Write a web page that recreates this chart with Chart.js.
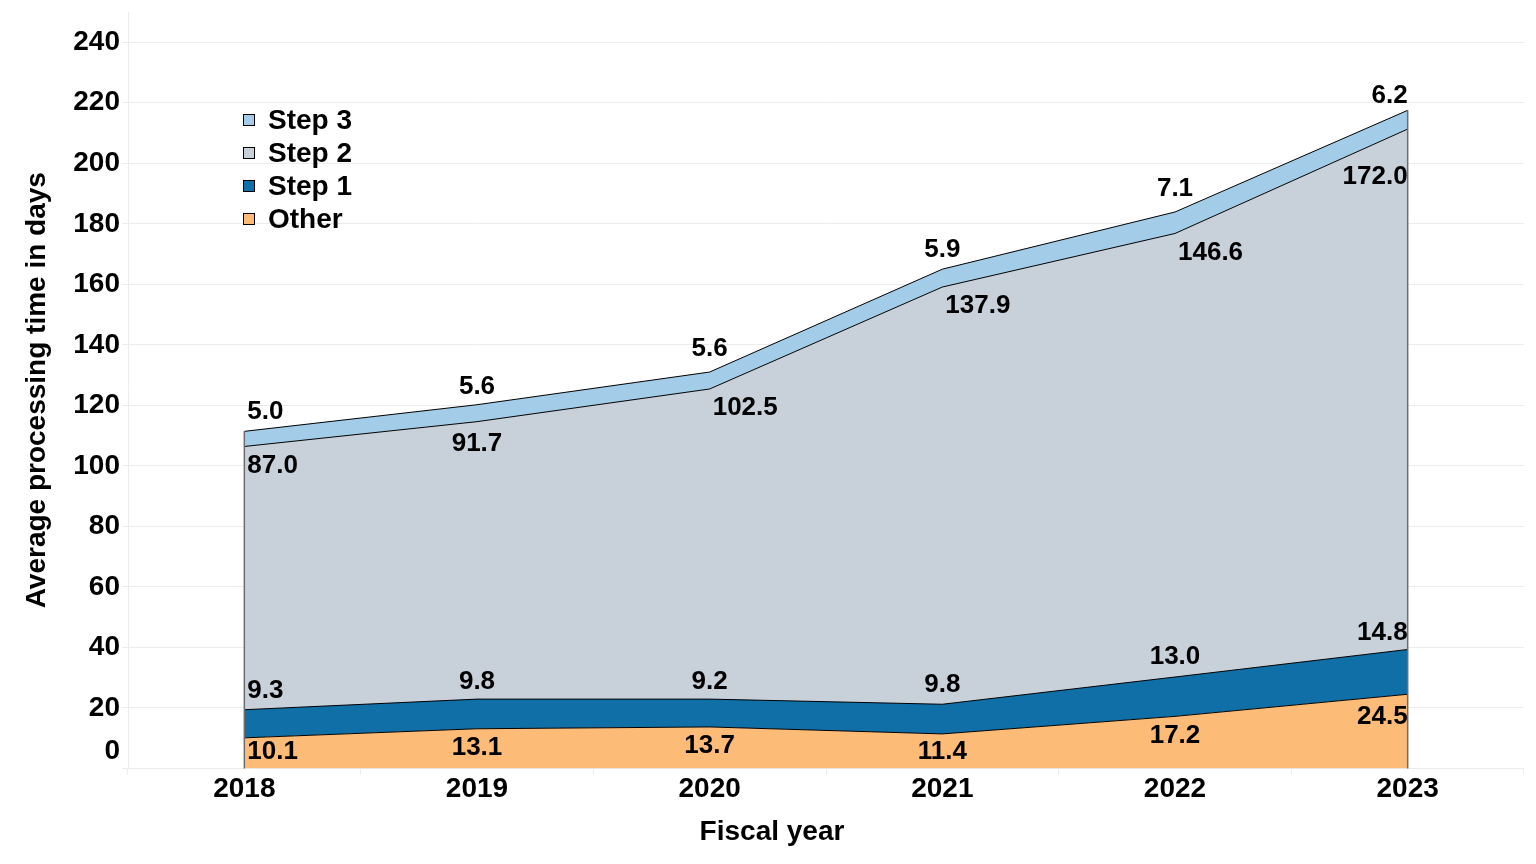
<!DOCTYPE html>
<html>
<head>
<meta charset="utf-8">
<script src="https://cdn.jsdelivr.net/npm/chart.js@4.4.1/dist/chart.umd.min.js"></script>
<style>
  html, body { margin: 0; padding: 0; background: #fff; }
  #wrap { width: 1536px; height: 864px; }
</style>
</head>
<body>
<div id="wrap"><canvas id="chart"></canvas></div>
<script>
const years = ['2018', '2019', '2020', '2021', '2022', '2023'];
const other = [10.1, 13.1, 13.7, 11.4, 17.2, 24.5];
const step1 = [9.3, 9.8, 9.2, 9.8, 13.0, 14.8];
const step2 = [87.0, 91.7, 102.5, 137.9, 146.6, 172.0];
const step3 = [5.0, 5.6, 5.6, 5.9, 7.1, 6.2];
const yTicks = [0, 20, 40, 60, 80, 100, 120, 140, 160, 180, 200, 220, 240];

const FONT = '"Liberation Sans", Arial, sans-serif';
const GRID = '#ececec';

// where each series puts its value labels: side of its top line + gap
const labelRules = [
  { side: 'below', gap: 18 },  // Other
  { side: 'above', gap: 17 },  // Step 1
  { side: 'below', gap: 19 },  // Step 2
  { side: 'above', gap: 15 }   // Step 3
];

function lineYAt(pts, i, x) {
  // y of the stacked top line at pixel x, near point i
  const p = pts[i];
  const q = x < p.x ? pts[i - 1] : pts[i + 1];
  if (!q || x === p.x) return p.y;
  return p.y + (q.y - p.y) * (x - p.x) / (q.x - p.x);
}

// grey side edges of the stacked area
const areaEdges = {
  id: 'areaEdges',
  afterDatasetsDraw(chart) {
    const last = chart.data.datasets.length - 1;
    const pts = chart.getDatasetMeta(last).data;
    const bottom = chart.scales.y.getPixelForValue(0);
    const ctx = chart.ctx;
    ctx.save();
    ctx.strokeStyle = '#6e6e6e';
    ctx.lineWidth = 1.5;
    [pts[0], pts[pts.length - 1]].forEach(p => {
      ctx.beginPath();
      ctx.moveTo(p.x, p.y);
      ctx.lineTo(p.x, bottom);
      ctx.stroke();
    });
    ctx.restore();
  }
};

const areaLabels = {
  id: 'areaLabels',
  afterDatasetsDraw(chart) {
    const ctx = chart.ctx;
    const area = chart.chartArea;
    ctx.save();
    ctx.font = 'bold 26px ' + FONT;
    ctx.fillStyle = '#000';
    ctx.textBaseline = 'middle';
    chart.data.datasets.forEach((ds, di) => {
      const pts = chart.getDatasetMeta(di).data;
      const rule = labelRules[di];
      pts.forEach((p, i) => {
        const text = ds.data[i].toFixed(1);
        const w = ctx.measureText(text).width;
        let x = p.x, align = 'center', x0, x1;
        const steepRise = i < pts.length - 1 && p.y - pts[i + 1].y > 40;
        if (i === 0 || (rule.side === 'below' && steepRise)) {
          x = p.x + 3; align = 'left'; x0 = p.x; x1 = x + w;
        } else if (i === pts.length - 1) {
          align = 'right'; x0 = x - w; x1 = p.x;
        } else {
          x0 = x - w / 2; x1 = x + w / 2;
        }
        const ya = lineYAt(pts, i, x0), yb = lineYAt(pts, i, x1);
        let y;
        if (rule.side === 'above') {
          y = Math.min(p.y, ya, yb) - rule.gap;
        } else {
          y = Math.max(p.y, ya, yb) + rule.gap;
          y = Math.min(y, area.bottom - 17);
        }
        ctx.textAlign = align;
        ctx.fillText(text, x, y);
      });
    });
    ctx.restore();
  }
};

const insideLegend = {
  id: 'insideLegend',
  afterDraw(chart) {
    const ctx = chart.ctx;
    const area = chart.chartArea;
    const x = area.left + 115, y0 = area.top + 108, row = 33, box = 12;
    ctx.save();
    ctx.font = 'bold 28px ' + FONT;
    ctx.textBaseline = 'middle';
    ctx.textAlign = 'left';
    const list = chart.data.datasets.slice().reverse();
    list.forEach((ds, k) => {
      const y = y0 + k * row;
      ctx.fillStyle = ds.backgroundColor;
      ctx.fillRect(x, y - box / 2, box, box);
      ctx.strokeStyle = '#000';
      ctx.lineWidth = 1;
      ctx.strokeRect(x + 0.5, y - box / 2 + 0.5, box - 1, box - 1);
      ctx.fillStyle = '#000';
      ctx.fillText(ds.label, x + 25, y + 1);
    });
    ctx.restore();
  }
};

// the zero label sits a little above its grid line
const zeroLabel = {
  id: 'zeroLabel',
  afterDraw(chart) {
    const s = chart.scales.y;
    const ctx = chart.ctx;
    ctx.save();
    ctx.font = 'bold 28px ' + FONT;
    ctx.fillStyle = '#000';
    ctx.textAlign = 'right';
    ctx.textBaseline = 'middle';
    ctx.fillText('0', s.right - 8, s.getPixelForValue(0) - 17);
    ctx.restore();
  }
};

function series(label, data, color, fill) {
  return {
    label: label,
    data: data,
    backgroundColor: color,
    borderColor: '#000',
    borderWidth: 1,
    fill: fill,
    pointRadius: 0,
    pointHoverRadius: 0,
    tension: 0
  };
}

new Chart(document.getElementById('chart'), {
  type: 'line',
  data: {
    labels: years,
    datasets: [
      series('Other', other, '#fdbb78', 'origin'),
      series('Step 1', step1, '#116fa8', '-1'),
      series('Step 2', step2, '#c8d0da', '-1'),
      series('Step 3', step3, '#a3cce8', '-1')
    ]
  },
  plugins: [areaEdges, areaLabels, insideLegend, zeroLabel],
  options: {
    responsive: true,
    maintainAspectRatio: false,
    animation: false,
    layout: { padding: { top: 12, right: 12, left: 20, bottom: 0 } },
    plugins: {
      legend: { display: false },
      tooltip: { enabled: false },
      title: {
        display: true,
        position: 'bottom',
        text: 'Fiscal year',
        color: '#000',
        font: { family: FONT, size: 28, weight: 'bold' },
        padding: { top: 0, bottom: 15 }
      }
    },
    scales: {
      x: {
        offset: true,
        grid: { offset: true, color: GRID, tickLength: 6, drawOnChartArea: false },
        border: { display: false },
        ticks: { color: '#000', font: { family: FONT, size: 28, weight: 'bold' }, padding: -2, maxRotation: 0 },
        afterFit: s => { s.height = 47; }
      },
      y: {
        stacked: true,
        min: 0,
        max: 250,
        afterBuildTicks: s => { s.ticks = yTicks.map(v => ({ value: v })); },
        grid: { color: GRID, tickLength: 6 },
        border: { color: GRID },
        ticks: {
          color: '#000',
          font: { family: FONT, size: 28, weight: 'bold' },
          padding: 2,
          callback: v => (v === 0 ? '' : v)
        },
        title: { display: true, text: 'Average processing time in days', color: '#000', font: { family: FONT, size: 28, weight: 'bold' }, padding: { top: 0, bottom: 0 } },
        afterFit: s => { s.width = 108; s.paddingTop = 0; s.paddingBottom = 0; }
      }
    }
  }
});
</script>
</body>
</html>
